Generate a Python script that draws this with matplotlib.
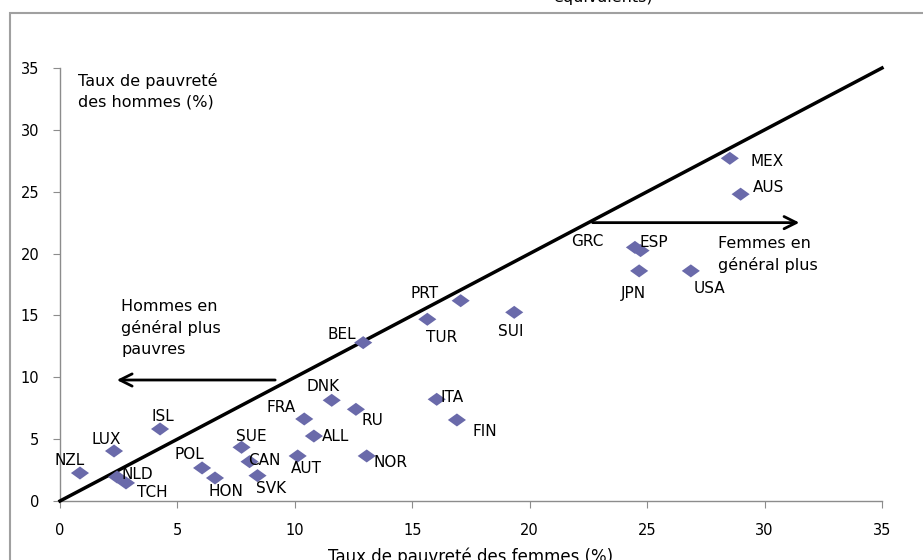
import matplotlib
matplotlib.use("Agg")
import matplotlib.pyplot as plt
from matplotlib.patches import Rectangle
from matplotlib.path import Path

plt.rcParams['font.family'] = ['DejaVu Sans']

countries = ["NZL", "LUX", "ISL", "NLD", "TCH", "POL", "HON", "SUE", "CAN", "SVK",
             "AUT", "FRA", "ALL", "DNK", "RU", "NOR", "ITA", "FIN", "BEL", "TUR",
             "PRT", "SUI", "MEX", "AUS", "GRC", "ESP", "JPN", "USA"]
women = [0.85, 2.3, 4.26, 2.43, 2.81, 6.05, 6.6, 7.73, 8.07, 8.41,
         10.12, 10.4, 10.81, 11.57, 12.6, 13.06, 16.04, 16.9, 12.91, 15.64,
         17.06, 19.34, 28.52, 28.98, 24.48, 24.72, 24.66, 26.86]
men = [2.26, 4.04, 5.82, 1.94, 1.46, 2.67, 1.86, 4.34, 3.18, 2.05,
       3.64, 6.63, 5.25, 8.14, 7.41, 3.64, 8.22, 6.55, 12.8, 14.69,
       16.19, 15.25, 27.7, 24.8, 20.5, 20.24, 18.6, 18.6]
# label offsets in points (dx, dy)
label_offsets = {
    "NZL": (-18, 9), "LUX": (-16, 8), "ISL": (-6, 9), "NLD": (3, 2), "TCH": (8, -7),
    "POL": (-20, 10), "HON": (-5, -10), "SUE": (-4, 8), "CAN": (-1, 1), "SVK": (-1, -9),
    "AUT": (-5, -9), "FRA": (-27, 8), "ALL": (6, 0), "DNK": (-18, 10), "RU": (4, -8),
    "NOR": (5, -5), "ITA": (3, 1), "FIN": (11, -8), "BEL": (-26, 6), "TUR": (-1, -13),
    "PRT": (-36, 5), "SUI": (-12, -14), "MEX": (15, -2), "AUS": (9, 5),
    "GRC": (-46, 4), "ESP": (-1, 6), "JPN": (-13, -16), "USA": (2, -13),
}

fig = plt.figure(figsize=(9.23, 5.6), dpi=100)
W, H = 923, 560
ax = fig.add_axes([60 / W, (H - 501) / H, (882 - 60) / W, (501 - 68) / H])

fig.patches.append(Rectangle((10 / W, -0.1), 2.0, (H - 13) / H + 0.1,
                             transform=fig.transFigure, fill=False,
                             edgecolor='#a0a0a0', linewidth=1.5, zorder=0))

ax.set_xlim(0, 35)
ax.set_ylim(0, 35)
ax.set_xticks(range(0, 36, 5))
ax.set_yticks(range(0, 36, 5))
for s in ['top', 'right']:
    ax.spines[s].set_visible(False)
for s in ['left', 'bottom']:
    ax.spines[s].set_color('#8c8c8c')
    ax.spines[s].set_linewidth(1.0)
ax.tick_params(axis='both', colors='#8c8c8c', labelcolor='black', labelsize=10.5,
               length=5, direction='out')
ax.tick_params(axis='x', pad=11)
ax.tick_params(axis='y', pad=10)

# 45 degree line
ax.plot([0, 35], [0, 35], color='black', linewidth=2.5, clip_on=False, zorder=3)

diamond = Path([(-1, 0), (0, 0.72), (1, 0), (0, -0.72), (-1, 0)],
               [Path.MOVETO, Path.LINETO, Path.LINETO, Path.LINETO, Path.CLOSEPOLY])
ax.scatter(women, men, marker=diamond, s=170, color='#6a6aaa', edgecolors='none', zorder=4)

for c, x, y in zip(countries, women, men):
    dx, dy = label_offsets[c]
    ax.annotate(c, (x, y), xytext=(dx, dy), textcoords='offset points',
                fontsize=11, va='center', ha='left', zorder=5)

# arrows
ax.annotate('', xy=(2.3, 9.78), xytext=(9.28, 9.78),
            arrowprops=dict(arrowstyle='->', color='black', lw=2, mutation_scale=22))
ax.annotate('', xy=(31.6, 22.5), xytext=(22.56, 22.5),
            arrowprops=dict(arrowstyle='->', color='black', lw=2, mutation_scale=22))

ax.text(0.75, 34.6, "Taux de pauvreté\ndes hommes (%)", fontsize=11.5, va='top', ha='left',
        linespacing=1.45)
ax.text(2.6, 16.3, "Hommes en\ngénéral plus\npauvres", fontsize=11.5, va='top', ha='left',
        linespacing=1.45)
ax.text(28.0, 21.4, "Femmes en\ngénéral plus", fontsize=11.5, va='top', ha='left',
        linespacing=1.45)

ax.set_xlabel("Taux de pauvreté des femmes (%)", fontsize=12)
ax.xaxis.set_label_coords(0.5, -0.108)

fig.text(603 / W, 1 - 2 / H, "équivalents)", fontsize=11.5, ha='center', va='baseline')

fig.savefig("out.png", dpi=100)
